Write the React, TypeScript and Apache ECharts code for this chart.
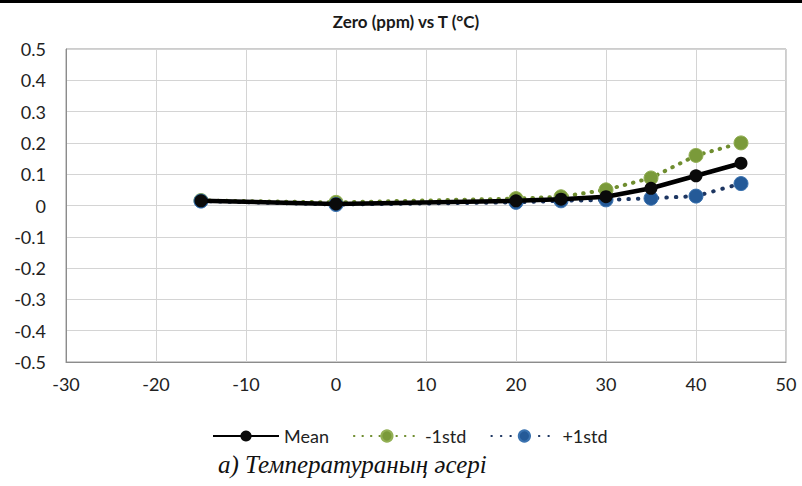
import React, { useEffect, useRef } from "react";
import * as echarts from "echarts";

const temps = [-15, 0, 20, 25, 30, 35, 40, 45];
const meanVals = [0.015, 0.005, 0.015, 0.02, 0.028, 0.055, 0.095, 0.135];
const minusStd = [0.016, 0.01, 0.022, 0.028, 0.05, 0.088, 0.16, 0.2];
const plusStd = [0.014, 0.003, 0.01, 0.015, 0.018, 0.023, 0.03, 0.07];
const seriesNames = ["Mean", "-1std", "+1std"];
const titleText = "Zero (ppm) vs T (°C)";
const captionText = "а) Температураның әсері";

const pairs = (ys: number[]) => temps.map((t, i) => [t, ys[i]]);

export default function App() {
  const ref = useRef<HTMLDivElement>(null);
  useEffect(() => {
    document.body.style.margin = "0";
    const chart = echarts.init(ref.current!, null, { renderer: "svg" });
    const font = "Lato, 'Open Sans', sans-serif";
    chart.setOption({
      animation: false,
      backgroundColor: "#ffffff",
      title: {
        text: titleText,
        left: 401,
        top: 8,
        textAlign: "center",
        textStyle: { fontFamily: font, fontSize: 17, fontWeight: "bold", color: "#1a1a1a" },
      },
      grid: {
        left: 66,
        right: 16,
        top: 49,
        bottom: 124,
        show: true,
        borderColor: "#9a9a9a",
        borderWidth: 1,
      },
      xAxis: {
        type: "value",
        min: -30,
        max: 50,
        interval: 10,
        axisLine: { onZero: false, lineStyle: { color: "#8c8c8c", width: 1 } },
        axisTick: { show: false },
        axisLabel: { fontFamily: font, fontSize: 18, color: "#222", margin: 13 },
        splitLine: { show: true, lineStyle: { color: "#d4d4d4", width: 1 } },
      },
      yAxis: {
        type: "value",
        min: -0.5,
        max: 0.5,
        interval: 0.1,
        axisLine: { show: true, onZero: false, lineStyle: { color: "#8c8c8c", width: 1 } },
        axisTick: { show: false },
        axisLabel: {
          fontFamily: font,
          fontSize: 18,
          color: "#222",
          margin: 20,
          formatter: (v: number) => String(Math.round(v * 10) / 10),
        },
        splitLine: { show: true, lineStyle: { color: "#d4d4d4", width: 1 } },
      },
      legend: {
        data: seriesNames,
        left: 210,
        top: 424,
        padding: 2,
        itemWidth: 66,
        itemHeight: 14,
        itemGap: 24,
        textStyle: { fontFamily: font, fontSize: 18, lineHeight: 20, color: "#222" },
      },
      series: [
        {
          name: seriesNames[1],
          type: "line",
          data: pairs(minusStd),
          symbol: "circle",
          symbolSize: 14,
          z: 2,
          itemStyle: { color: "#7a9a3a", borderColor: "#93b055", borderWidth: 1 },
          lineStyle: { color: "#6f8d2f", width: 4, type: [0.5, 8], cap: "round" },
        },
        {
          name: seriesNames[2],
          type: "line",
          data: pairs(plusStd),
          symbol: "circle",
          symbolSize: 14,
          z: 3,
          itemStyle: { color: "#245a98", borderColor: "#3b73b0", borderWidth: 1 },
          lineStyle: { color: "#1c3561", width: 4, type: [0.5, 9], cap: "round" },
        },
        {
          name: seriesNames[0],
          type: "line",
          data: pairs(meanVals),
          symbol: "circle",
          symbolSize: 13,
          z: 4,
          itemStyle: { color: "#0a0a0a" },
          lineStyle: { color: "#000000", width: 4.5 },
        },
      ],
      graphic: [
        {
          type: "rect",
          shape: { x: 0, y: 0, width: 802, height: 3 },
          style: { fill: "#000000" },
        },
        {
          type: "text",
          x: 218,
          y: 452,
          style: {
            text: captionText,
            font: "italic 25px 'Liberation Serif', 'DejaVu Serif', serif",
            fill: "#111",
          },
        },
      ],
    });
    return () => chart.dispose();
  }, []);
  return (
    <div
      ref={ref}
      style={{ position: "absolute", left: 0, top: 0, width: 802, height: 486 }}
    />
  );
}
